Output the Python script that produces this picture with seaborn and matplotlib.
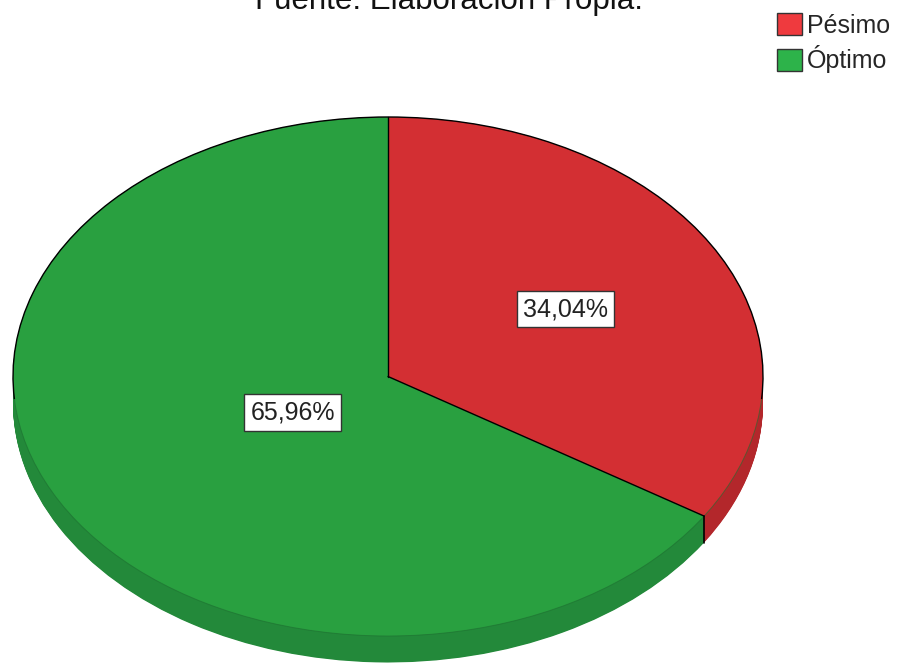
import numpy as np
import matplotlib
matplotlib.use("Agg")
import matplotlib.pyplot as plt
import seaborn as sns
from matplotlib.patches import Patch, Arc

categorias = ["Pésimo", "Óptimo"]
porcentajes = [34.04, 65.96]
etiquetas = ["34,04%", "65,96%"]
titulo = "Fuente: Elaboración Propia."

colores_sup = ["#d32f33", "#29a040"]
colores_lado = ["#b3272b", "#23893a"]
colores_leyenda = ["#ef3a3e", "#2db34a"]

sns.set_style("white")
plt.rcParams["font.family"] = ["Liberation Sans", "DejaVu Sans"]

W, H = 898, 665
fig = plt.figure(figsize=(W / 100, H / 100), dpi=100)

# ellipse geometry in pixels (centre, radii, depth of the 3d side)
cx, cy, rx, ry, depth = 388, 376.5, 375, 259.5, 26.5
xlo, xhi = -1.01, 1.01
ylo, yhi = -1.11, 1.02
ax = fig.add_axes([(cx + xlo * rx) / W, (H - cy + ylo * ry) / H,
                   (xhi - xlo) * rx / W, (yhi - ylo) * ry / H])

d = depth / ry
# side of the "3d" pie
for off in np.linspace(d, 0, 40):
    ax.pie(porcentajes, colors=colores_lado, startangle=90, counterclock=False,
           center=(0, -off), radius=1, wedgeprops=dict(linewidth=0))

# top face
ax.pie(porcentajes, colors=colores_sup, startangle=90, counterclock=False,
       center=(0, 0), radius=1, wedgeprops=dict(linewidth=0))

# outline: black on the back, faint on the front edge
ax.add_patch(Arc((0, 0), 2, 2, theta1=-5, theta2=185, color="black", lw=1.0))
ax.add_patch(Arc((0, 0), 2, 2, theta1=185, theta2=355, color="#1d6e30",
                 lw=0.7, alpha=0.6))

fr = np.cumsum(porcentajes) / np.sum(porcentajes)
bordes = np.deg2rad(90 - 360 * np.concatenate([[0], fr[:-1]]))
for a in bordes:
    ax.plot([0, np.cos(a)], [0, np.sin(a)], color="black", lw=1.0)
# borde entre sectores en el lateral
a = bordes[1]
ax.plot([np.cos(a), np.cos(a)], [np.sin(a), np.sin(a) - d],
        color="black", lw=1.2)

# etiquetas de porcentaje
dist = [0.54, 0.29]
inicio = np.concatenate([[0], fr[:-1]])
for i, lab in enumerate(etiquetas):
    mid = np.deg2rad(90 - 360 * (inicio[i] + fr[i]) / 2)
    ax.text(dist[i] * np.cos(mid), dist[i] * np.sin(mid), lab,
            ha="center", va="center", fontsize=18, color="#222222",
            bbox=dict(boxstyle="square,pad=0.25", facecolor="white",
                      edgecolor="#333333", linewidth=1.0))

ax.set_aspect("auto")
ax.set_xlim(xlo, xhi)
ax.set_ylim(ylo, yhi)
ax.axis("off")

fig.text(0.5, 1 - 9 / H, titulo, ha="center", va="baseline", fontsize=22.5,
         color="#111111")

handles = [Patch(facecolor=c, edgecolor="#333333", linewidth=1.0)
           for c in colores_leyenda]
fig.legend(handles, categorias, loc="upper left",
           bbox_to_anchor=(777 / W, 1 - 13 / H), frameon=False, fontsize=18,
           handlelength=1.0, handleheight=1.0, handletextpad=0.2,
           labelspacing=0.3, borderpad=0, borderaxespad=0)

fig.savefig("out.png", dpi=100)
